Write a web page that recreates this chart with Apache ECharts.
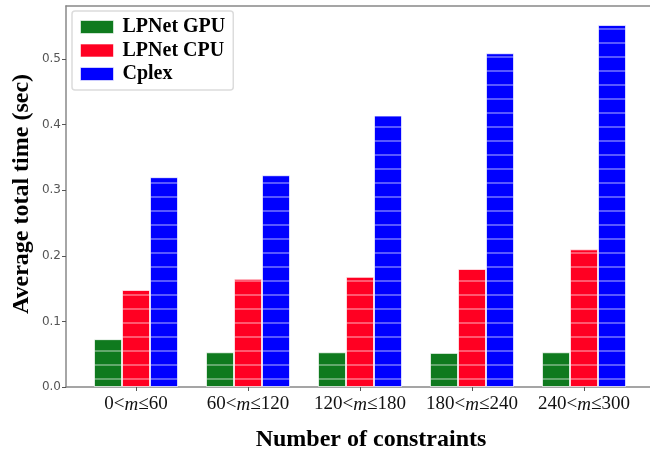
<!DOCTYPE html>
<html><head><meta charset="utf-8">
<script src="https://cdn.jsdelivr.net/npm/echarts@6/dist/echarts.min.js"></script>
<style>html,body{margin:0;padding:0;background:#fff}#c{width:650px;height:453px}</style>
</head><body><div id="c"></div>
<script>
const categories = ['0<m≤60','60<m≤120','120<m≤180','180<m≤240','240<m≤300'];
const seriesNames = ['LPNet GPU','LPNet CPU','Cplex'];
const gpu = [0.073,0.053,0.053,0.052,0.053];
const cpu = [0.148,0.165,0.168,0.180,0.210];
const cplex = [0.320,0.323,0.414,0.509,0.552];
const yTicks = [0,0.1,0.2,0.3,0.4,0.5];
const colors = ['#0f7a1e','#ff0022','#0000ff'];
const YMAX = 0.581;
const serif = 'Liberation Serif';

const chart = echarts.init(document.getElementById('c'), null, {renderer:'canvas'});
const hatch = {symbol:'rect', symbolSize:1, color:'rgba(255,255,255,0.35)', dashArrayX:[1,0], dashArrayY:[2,12], rotation:0};
function mk(name, data, color){
  return {name, type:'bar', data, xAxisIndex:0, yAxisIndex:0, barWidth:28, barGap:'0%',
    itemStyle:{color, borderColor:'rgba(255,255,255,0.45)', borderWidth:1, decal:hatch}};
}
chart.setOption({
  animation:false,
  backgroundColor:'#fff',
  legend:{
    orient:'vertical', left:72, top:11, padding:[6,8,6,8],
    itemWidth:33, itemHeight:13, itemGap:3.5,
    backgroundColor:'#fff', borderColor:'#dcdcdc', borderWidth:1.5, borderRadius:3,
    icon:'rect',
    textStyle:{fontFamily:serif, fontWeight:'bold', fontSize:20, color:'#000', lineHeight:20, padding:[0,0,0,4]},
    itemStyle:{decal:'none', borderColor:'rgba(255,255,255,0.6)', borderWidth:1},
    data:seriesNames
  },
  grid:[
    {left:80, right:10, top:6, bottom:66},
    {left:66, right:-6, top:6, bottom:66}
  ],
  xAxis:[
    {type:'category', gridIndex:0, data:categories,
     axisLine:{show:false},
     axisTick:{show:true, alignWithLabel:true, interval:0, length:4, lineStyle:{color:'#555', width:1}},
     axisLabel:{interval:0, hideOverlap:false, margin:8, color:'#111', fontFamily:serif, fontSize:19,
       formatter:v=>{const p=v.split('m'); return '{a|'+p[0]+'}{i|m}{a|'+p[1]+'}';},
       rich:{a:{fontFamily:serif, fontSize:19, color:'#111'}, i:{fontFamily:serif, fontStyle:'italic', fontSize:19, color:'#111'}}}
    },
    {type:'value', gridIndex:1, min:0, max:1, position:'bottom',
     axisLine:{show:true, lineStyle:{color:'#888', width:1.5}}, axisTick:{show:false}, axisLabel:{show:false}, splitLine:{show:false}},
    {type:'value', gridIndex:1, min:0, max:1, position:'top',
     axisLine:{show:true, lineStyle:{color:'#888', width:1.5}}, axisTick:{show:false}, axisLabel:{show:false}, splitLine:{show:false}}
  ],
  yAxis:[
    {type:'value', gridIndex:0, min:0, max:YMAX, show:false, splitLine:{show:false}},
    {type:'value', gridIndex:1, min:0, max:YMAX, interval:0.1,
     axisLine:{show:true, lineStyle:{color:'#888', width:1.5}},
     axisTick:{show:true, length:4, customValues:yTicks, lineStyle:{color:'#555'}},
     axisLabel:{margin:5, color:'#555', fontFamily:'DejaVu Sans', fontSize:12, customValues:yTicks, formatter:v=>v.toFixed(1)},
     splitLine:{show:false}}
  ],
  graphic:[
    {type:'text', x:371, y:440, style:{text:'Number of constraints', font:'bold 24px "Liberation Serif"', fill:'#000', textAlign:'center', textVerticalAlign:'middle'}},
    {type:'text', x:22, y:194, rotation:Math.PI/2, style:{text:'Average total time (sec)', font:'bold 24px "Liberation Serif"', fill:'#000', textAlign:'center', textVerticalAlign:'middle'}}
  ],
  series:[mk(seriesNames[0],gpu,colors[0]), mk(seriesNames[1],cpu,colors[1]), mk(seriesNames[2],cplex,colors[2])]
});
</script></body></html>
